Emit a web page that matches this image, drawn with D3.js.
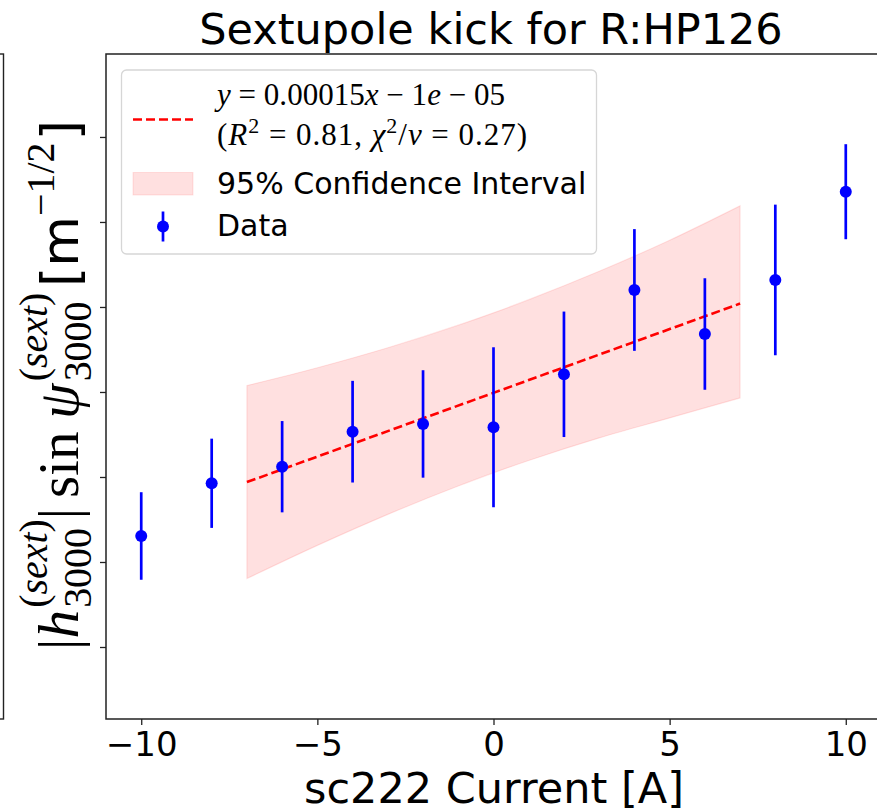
<!DOCTYPE html>
<html>
<head>
<meta charset="utf-8">
<script src="https://cdn.jsdelivr.net/npm/d3@7"></script>
<style>
  html, body { margin: 0; padding: 0; background: #fff; }
  svg { display: block; }
</style>
</head>
<body>
<svg id="chart" width="877" height="812"></svg>
<script>
// ---- data ----
const currents = [-10, -8, -6, -4, -2, 0, 2, 4, 6, 8, 10];
const kick     = [-0.001694, -0.001074, -0.000879, -0.000467, -0.000376, -0.000415,
                  0.000208, 0.001200, 0.000682, 0.001318, 0.002356];
const kickErr  = [0.000515, 0.000525, 0.000537, 0.000598, 0.000632, 0.000941,
                  0.000738, 0.000716, 0.000656, 0.000886, 0.000559];
const fitX = [-7, 7];
const fitY = [-0.00106, 0.00104];
const ciX     = [-7, -5, -3, -1, 0, 1, 3, 5, 7];
const ciUpper = [0.000075, 0.000285, 0.00052, 0.000786, 0.000931, 0.001086, 0.00142, 0.001785, 0.00219];
const ciLower = [-0.002195, -0.001805, -0.00144, -0.001106, -0.000951, -0.000806, -0.00054, -0.000305, -0.00007];
const xTicks = [-10, -5, 0, 5, 10];
const yTicks = [-0.003, -0.002, -0.001, 0, 0.001, 0.002, 0.003];
const titleText = "Sextupole kick for R:HP126";
const xLabelText = "sc222 Current [A]";
const legendCI = "95% Confidence Interval";
const legendData = "Data";

// ---- layout ----
const svg = d3.select("#chart");
const M = { left: 106, top: 54, right: 881, bottom: 719 };
const SANS = "DejaVu Sans, sans-serif";
const SERIF = "Liberation Serif, DejaVu Serif, serif";

const x = d3.scaleLinear().domain([-11, 11]).range([M.left, M.right]);
const y = d3.scaleLinear().domain([-0.003847, 0.003976]).range([M.bottom, M.top]);

// fragment of neighbouring subplot at far left
svg.append("rect").attr("x", -50).attr("y", M.top).attr("width", 53.5).attr("height", M.bottom - M.top)
  .attr("fill", "none").attr("stroke", "#222").attr("stroke-width", 1.4);

// confidence band
const ciData = ciX.map((d, i) => ({ x: d, lo: ciLower[i], hi: ciUpper[i] }));
svg.append("path").datum(ciData)
  .attr("d", d3.area().x(d => x(d.x)).y0(d => y(d.lo)).y1(d => y(d.hi)).curve(d3.curveMonotoneX))
  .attr("fill", "rgb(255,0,0)").attr("fill-opacity", 0.12)
  .attr("stroke", "rgb(255,0,0)").attr("stroke-opacity", 0.1).attr("stroke-width", 1.2);

// fit line
const fitData = fitX.map((d, i) => ({ x: d, y: fitY[i] }));
svg.append("path").datum(fitData)
  .attr("d", d3.line().x(d => x(d.x)).y(d => y(d.y)))
  .attr("fill", "none").attr("stroke", "#ff0000").attr("stroke-width", 2.6)
  .attr("stroke-dasharray", "9,4");

// error bars + points
const pts = currents.map((c, i) => ({ x: c, y: kick[i], e: kickErr[i] }));
svg.append("g").selectAll("line").data(pts).join("line")
  .attr("x1", d => x(d.x)).attr("x2", d => x(d.x))
  .attr("y1", d => y(d.y - d.e)).attr("y2", d => y(d.y + d.e))
  .attr("stroke", "#0000ff").attr("stroke-width", 2.7);
svg.append("g").selectAll("circle").data(pts).join("circle")
  .attr("cx", d => x(d.x)).attr("cy", d => y(d.y)).attr("r", 6)
  .attr("fill", "#0000ff");

// axes
const xAxis = svg.append("g").attr("transform", `translate(0,${M.bottom})`)
  .call(d3.axisBottom(x).tickValues(xTicks).tickSize(6).tickPadding(7)
    .tickFormat(d => d < 0 ? "\u2212" + Math.abs(d) : String(d)));
xAxis.select(".domain").remove();
xAxis.selectAll("line").attr("stroke", "#222").attr("stroke-width", 1.3);
xAxis.selectAll("text").attr("font-family", SANS).attr("font-size", 34).attr("fill", "#000");

const yAxis = svg.append("g").attr("transform", `translate(${M.left},0)`)
  .call(d3.axisLeft(y).tickValues(yTicks).tickSize(6).tickFormat(""));
yAxis.select(".domain").remove();
yAxis.selectAll("line").attr("stroke", "#222").attr("stroke-width", 1.3);

// spines
const sp = svg.append("g").attr("stroke", "#222").attr("stroke-width", 1.5).attr("fill", "none");
sp.append("path").attr("d", `M${M.right},${M.top}H${M.left}V${M.bottom}H${M.right}`);

// title and x label
svg.append("text").attr("x", 491).attr("y", 44)
  .attr("text-anchor", "middle").attr("font-family", SANS).attr("font-size", 43)
  .attr("fill", "#000").text(titleText);
svg.append("text").attr("x", 494).attr("y", 803)
  .attr("text-anchor", "middle").attr("font-family", SANS).attr("font-size", 43)
  .attr("fill", "#000").text(xLabelText);

// ---- y label (math-like layout) ----
(function () {
  const F = 57;
  const outer = svg.append("g").attr("transform", `translate(78,385) rotate(-90)`);
  const g = outer.append("g");
  let cur = 0;
  function piece(parts, opts) {
    const t = g.append("text").attr("x", cur).attr("y", opts.dy || 0)
      .attr("font-family", opts.family || SERIF).attr("font-size", opts.size || F).attr("fill", "#000");
    parts.forEach(p => t.append("tspan").attr("font-style", p.it ? "italic" : "normal").text(p.t));
    return t.node().getComputedTextLength();
  }
  function add(parts, opts) { cur += piece(parts, opts); }
  function gap(em) { cur += em * F; }
  function stack(sup, sub) {
    const w1 = piece(sup, { size: 0.7 * F, dy: -0.55 * F });
    const w2 = piece(sub, { size: 0.7 * F, dy: 0.22 * F });
    cur += Math.max(w1, w2);
  }
  const sext = [{ t: "(" }, { t: "sext", it: true }, { t: ")" }];
  add([{ t: "|" }], {});
  add([{ t: "h", it: true }], {});
  gap(0.04);
  stack(sext, [{ t: "3000" }]);
  add([{ t: "|" }], {});
  gap(0.17);
  add([{ t: "sin" }], {});
  gap(0.22);
  add([{ t: "\u03C8", it: true }], {});
  gap(0.04);
  stack(sext, [{ t: "3000" }]);
  gap(0.1);
  add([{ t: " [m" }], { family: SANS, size: 52 });
  add([{ t: "\u22121/2" }], { size: 0.7 * F, dy: -0.42 * F });
  gap(0.04);
  add([{ t: "]" }], { family: SANS, size: 52 });
  g.attr("transform", `translate(${-cur / 2},0)`);
})();

// ---- legend ----
const lg = svg.append("g");
lg.append("rect").attr("x", 121.5).attr("y", 70).attr("width", 475).attr("height", 184)
  .attr("rx", 5).attr("fill", "#fff").attr("fill-opacity", 0.85)
  .attr("stroke", "#d6d6d6").attr("stroke-width", 1.3);
lg.append("line").attr("x1", 133).attr("x2", 193).attr("y1", 119.5).attr("y2", 119.5)
  .attr("stroke", "#ff0000").attr("stroke-width", 2.6).attr("stroke-dasharray", "9,4");
function mathLine(yy, len, parts) {
  const t = lg.append("text").attr("x", 217).attr("y", yy).attr("font-family", SERIF)
    .attr("font-size", 31).attr("fill", "#000")
    .attr("textLength", len).attr("lengthAdjust", "spacing");
  parts.forEach(p => {
    const s = t.append("tspan").attr("font-style", p.it ? "italic" : "normal").text(p.t);
    if (p.sup) s.attr("font-size", 22).attr("dy", -12);
    if (p.down) s.attr("dy", 12);
  });
}
mathLine(105, 288, [{ t: "y", it: true }, { t: " = 0.00015" }, { t: "x", it: true }, { t: " \u2212 1" },
  { t: "e", it: true }, { t: " \u2212 05" }]);
mathLine(145, 310, [{ t: "(" }, { t: "R", it: true }, { t: "2", sup: true }, { t: " = 0.81, ", down: true },
  { t: "\u03C7", it: true }, { t: "2", sup: true }, { t: "/", down: true }, { t: "\u03BD", it: true },
  { t: " = 0.27)" }]);
lg.append("rect").attr("x", 133).attr("y", 172.5).attr("width", 60).attr("height", 22.5)
  .attr("fill", "rgb(255,0,0)").attr("fill-opacity", 0.12)
  .attr("stroke", "rgb(255,0,0)").attr("stroke-opacity", 0.1);
lg.append("text").attr("x", 217).attr("y", 194).attr("font-family", SANS).attr("font-size", 30)
  .attr("fill", "#000").text(legendCI);
lg.append("line").attr("x1", 163).attr("x2", 163).attr("y1", 211.5).attr("y2", 241.5)
  .attr("stroke", "#0000ff").attr("stroke-width", 2.7);
lg.append("circle").attr("cx", 163).attr("cy", 226.5).attr("r", 6).attr("fill", "#0000ff");
lg.append("text").attr("x", 217).attr("y", 236).attr("font-family", SANS).attr("font-size", 30)
  .attr("fill", "#000").text(legendData);
</script>
</body>
</html>
